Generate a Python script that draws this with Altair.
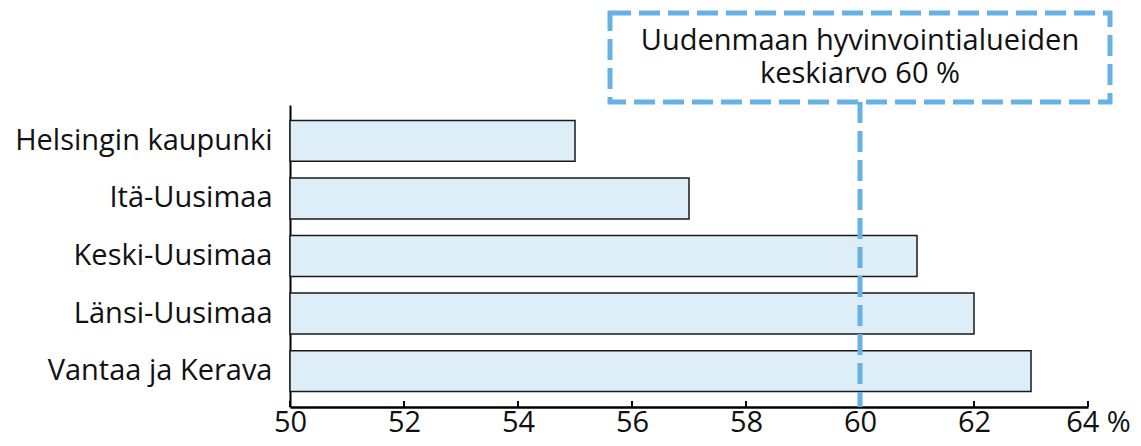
import altair as alt
import pandas as pd

regions = ["Helsingin kaupunki", "Itä-Uusimaa", "Keski-Uusimaa", "Länsi-Uusimaa", "Vantaa ja Kerava"]
values = [55, 57, 61, 62, 63]
tick_values = [50, 52, 54, 56, 58, 60, 62, 64]
average = [60]
annotation_lines = ["Uudenmaan hyvinvointialueiden", "keskiarvo 60 %"]

df = pd.DataFrame({"alue": regions, "osuus": values, "alku": [50] * len(values)})
ticks_df = pd.DataFrame({"t": tick_values})
avg_df = pd.DataFrame({"v": average})

W, H = 798, 302
FONT = "Open Sans"
FS = 29
BLUE = "#67b2e5"
INK = "#111111"

xscale = alt.Scale(domain=[50, 64], nice=False, zero=False)

bars = alt.Chart(df).mark_bar(fill="#deeef9", stroke="#1a1a1a", strokeWidth=1.5).encode(
    x=alt.X(
        "osuus:Q",
        scale=xscale,
        axis=alt.Axis(
            values=tick_values,
            format="d",
            labelExpr="datum.value == 64 ? '64 %' : datum.label",
            labelOffset={"condition": {"test": "datum.value == 64", "value": 10}, "value": 0},
            labelFlush=False,
            ticks=False,
            grid=False,
            domainColor="black",
            domainWidth=2.5,
            labelFontSize=FS,
            labelFont=FONT,
            labelPadding=1,
            labelColor=INK,
            title=None,
        ),
    ),
    x2="alku:Q",
    y=alt.Y(
        "alue:N",
        sort=None,
        scale=alt.Scale(paddingInner=0.29, paddingOuter=0.27),
        axis=alt.Axis(
            title=None,
            ticks=False,
            grid=False,
            domainColor="black",
            domainWidth=2,
            labelFontSize=FS,
            labelFont=FONT,
            labelPadding=18,
            labelColor=INK,
            labelLimit=400,
        ),
    ),
)

tick_marks = alt.Chart(ticks_df).mark_rule(color="black", strokeWidth=2).encode(
    x=alt.X("t:Q", scale=xscale),
    y=alt.value(H - 6),
    y2=alt.value(H),
)

avg_rule = alt.Chart(avg_df).mark_rule(color=BLUE, strokeWidth=5, strokeDash=[21, 8]).encode(
    x=alt.X("v:Q", scale=xscale),
    y=alt.value(-3),
    y2=alt.value(H),
)

box = alt.Chart(avg_df).mark_rect(
    fillOpacity=0, stroke=BLUE, strokeWidth=5, strokeDash=[21, 8]
).encode(
    x=alt.value(320),
    x2=alt.value(820),
    y=alt.value(-92),
    y2=alt.value(-3),
)

label = alt.Chart(avg_df).mark_text(
    text=annotation_lines,
    font=FONT,
    fontSize=FS,
    color=INK,
    align="center",
    baseline="alphabetic",
    lineHeight=33,
).encode(
    x=alt.X("v:Q", scale=xscale),
    y=alt.value(-55),
)

chart = (
    alt.layer(bars, tick_marks, avg_rule, box, label)
    .properties(
        width=W,
        height=H,
        autosize=alt.AutoSizeParams(type="none"),
        padding={"left": 282, "top": 97, "right": 45, "bottom": 31},
    )
    .configure(font=FONT)
    .configure_view(strokeOpacity=0, strokeWidth=0)
    .configure_axis(grid=False)
)

chart.save("out.html", embed_options={"renderer": "svg", "actions": False})
